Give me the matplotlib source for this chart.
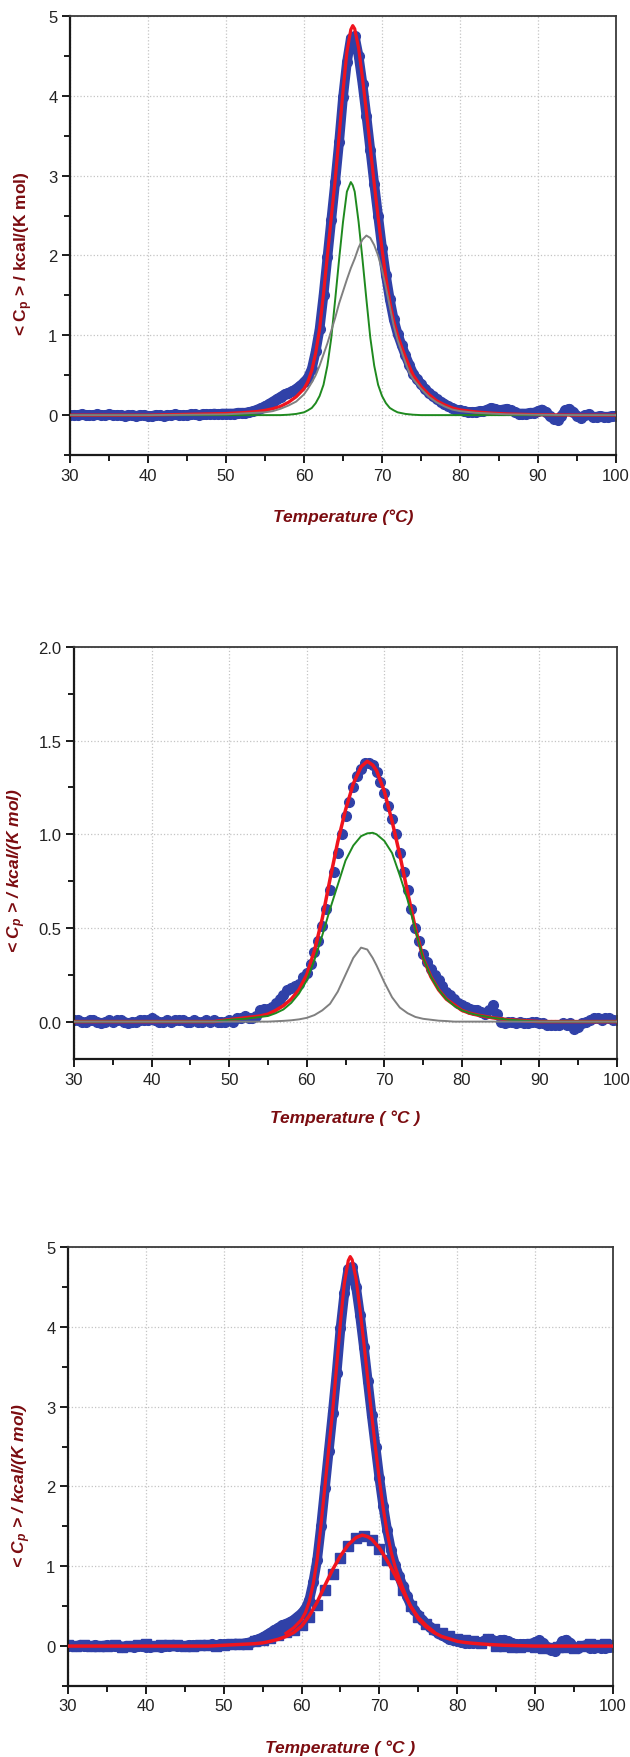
import numpy as np
import matplotlib.pyplot as plt
from matplotlib.ticker import MultipleLocator

plt.rcParams['font.family'] = ['Liberation Sans', 'DejaVu Sans']
plt.rcParams['mathtext.fontset'] = 'custom'
plt.rcParams['mathtext.rm'] = 'Liberation Sans:bold'
plt.rcParams['mathtext.it'] = 'Liberation Sans:italic:bold'
plt.rcParams['mathtext.bf'] = 'Liberation Sans:bold'

BLUE = '#3041a8'
RED = '#f0141e'
GREEN = '#1f8a1f'
GRAY = '#808080'
LABEL = '#7b0c10'

# ---- panel 1 : fit and its two components ----
t1_fit = [30, 40, 50, 52, 54, 55, 56, 57, 58, 59,
          60, 60.5, 61, 61.5, 62, 62.5, 63, 63.5, 64, 64.5,
          65, 65.5, 66, 66.25, 66.5, 67, 67.5, 68, 68.5, 69,
          69.5, 70, 70.5, 71, 71.5, 72, 72.5, 73, 73.5, 74,
          75, 76, 77, 78, 79, 80, 82, 84, 86, 90,
          95, 100]
cp1_fit = [0.0, 0.0, 0.02, 0.03, 0.045, 0.06, 0.08, 0.11, 0.16, 0.23,
           0.33, 0.42, 0.56, 0.78, 1.08, 1.52, 2.00, 2.48, 2.95, 3.50,
           4.06, 4.55, 4.83, 4.88, 4.84, 4.60, 4.22, 3.80, 3.35, 2.90,
           2.48, 2.08, 1.72, 1.42, 1.18, 1.00, 0.86, 0.73, 0.61, 0.50,
           0.36, 0.26, 0.18, 0.13, 0.09, 0.065, 0.04, 0.025, 0.015, 0.005,
           0.0, 0.0]
cp1_peak_a = [0.0, 0.0, 0.0, 0.0, 0.0, 0.0, 0.0, 0.0, 0.005, 0.015,
              0.035, 0.06, 0.09, 0.15, 0.24, 0.38, 0.62, 0.97, 1.45, 1.95,
              2.42, 2.80, 2.92, 2.88, 2.80, 2.42, 1.95, 1.45, 0.97, 0.62,
              0.38, 0.24, 0.15, 0.09, 0.06, 0.035, 0.025, 0.015, 0.01, 0.005,
              0.0, 0.0, 0.0, 0.0, 0.0, 0.0, 0.0, 0.0, 0.0, 0.0,
              0.0, 0.0]
cp1_peak_b = [0.0, 0.0, 0.01, 0.02, 0.03, 0.035, 0.05, 0.08, 0.12, 0.17,
              0.26, 0.33, 0.41, 0.50, 0.62, 0.76, 0.90, 1.06, 1.22, 1.40,
              1.55, 1.70, 1.84, 1.90, 1.96, 2.10, 2.20, 2.25, 2.22, 2.13,
              2.00, 1.82, 1.60, 1.36, 1.12, 0.94, 0.80, 0.66, 0.53, 0.45,
              0.33, 0.23, 0.16, 0.11, 0.07, 0.05, 0.03, 0.02, 0.01, 0.005,
              0.0, 0.0]

# measured scan 1, every 0.5 C from 30 to 100
cp1_data = [0.0, 0.0, 0.0, 0.01, 0.0, 0.0, 0.0, 0.01, 0.0, 0.0,
            0.01, 0.0, 0.0, 0.0, -0.01, 0.0, 0.0, -0.01, 0.0, 0.0,
            -0.01, -0.01, 0.0, 0.0, -0.01, 0.0, 0.0, 0.01, 0.0, 0.0,
            0.0, 0.01, 0.01, 0.0, 0.01, 0.01, 0.01, 0.02, 0.01, 0.02,
            0.02, 0.02, 0.02, 0.03, 0.03, 0.03, 0.04, 0.05, 0.07, 0.09,
            0.11, 0.14, 0.17, 0.20, 0.23, 0.26, 0.28, 0.30, 0.33, 0.37,
            0.41, 0.47, 0.58, 0.80, 1.08, 1.50, 1.98, 2.45, 2.92, 3.42,
            3.98, 4.42, 4.72, 4.75, 4.50, 4.15, 3.75, 3.32, 2.90, 2.50,
            2.10, 1.75, 1.45, 1.20, 1.02, 0.88, 0.75, 0.63, 0.52, 0.45,
            0.39, 0.33, 0.28, 0.24, 0.20, 0.17, 0.14, 0.11, 0.09, 0.07,
            0.06, 0.05, 0.04, 0.04, 0.04, 0.05, 0.05, 0.07, 0.09, 0.08,
            0.06, 0.07, 0.08, 0.06, 0.04, 0.02, 0.02, 0.02, 0.03, 0.03,
            0.05, 0.07, 0.04, -0.01, -0.05, -0.06, -0.01, 0.06, 0.08, 0.04,
            -0.01, -0.03, 0.0, 0.01, -0.02, -0.02, -0.01, -0.02, -0.02, -0.01,
            -0.01]

# ---- panel 2 : fit and its two components ----
t2_fit = [30, 40, 45, 48, 50, 52, 54, 55, 56, 57,
          58, 59, 60, 61, 62, 63, 64, 65, 66, 67,
          67.8, 68.5, 69, 70, 71, 72, 73, 74, 75, 76,
          77, 78, 79, 80, 81, 82, 84, 86, 88, 90,
          95, 100]
cp2_fit = [0.0, 0.0, 0.0, 0.0, 0.01, 0.02, 0.03, 0.04, 0.06, 0.085,
           0.12, 0.17, 0.25, 0.38, 0.55, 0.76, 0.96, 1.13, 1.27, 1.36,
           1.39, 1.37, 1.34, 1.23, 1.07, 0.89, 0.69, 0.50, 0.34, 0.24,
           0.17, 0.12, 0.09, 0.06, 0.045, 0.035, 0.02, 0.01, 0.005, 0.0,
           0.0, 0.0]
cp2_peak_a = [0.0, 0.0, 0.0, 0.0, 0.01, 0.015, 0.025, 0.03, 0.045, 0.065,
              0.10, 0.15, 0.22, 0.33, 0.46, 0.60, 0.73, 0.86, 0.94, 0.99,
              1.005, 1.008, 1.0, 0.965, 0.90, 0.78, 0.65, 0.49, 0.34, 0.24,
              0.17, 0.12, 0.085, 0.06, 0.045, 0.035, 0.02, 0.01, 0.005, 0.0,
              0.0, 0.0]
cp2_peak_b = [0.0, 0.0, 0.0, 0.0, 0.0, 0.0, 0.0, 0.0, 0.002, 0.004,
              0.007, 0.012, 0.02, 0.035, 0.06, 0.095, 0.16, 0.25, 0.34, 0.395,
              0.385, 0.34, 0.30, 0.21, 0.13, 0.075, 0.045, 0.025, 0.015, 0.01,
              0.005, 0.003, 0.0, 0.0, 0.0, 0.0, 0.0, 0.0, 0.0, 0.0,
              0.0, 0.0]

# measured scan 2, every 0.5 C from 30 to 100
cp2_data = [0.01, 0.01, 0.0, 0.0, 0.01, 0.01, 0.0, -0.01, 0.0, 0.01,
            0.0, 0.01, 0.01, 0.0, -0.01, 0.0, 0.0, 0.01, 0.01, 0.01,
            0.02, 0.01, 0.0, 0.0, 0.01, 0.0, 0.01, 0.01, 0.01, 0.0,
            0.0, 0.01, 0.0, 0.0, 0.01, 0.0, 0.01, 0.0, 0.0, 0.0,
            0.01, 0.0, 0.02, 0.02, 0.03, 0.02, 0.02, 0.03, 0.06, 0.07,
            0.07, 0.08, 0.10, 0.12, 0.14, 0.17, 0.18, 0.19, 0.20, 0.24,
            0.26, 0.31, 0.37, 0.43, 0.51, 0.60, 0.70, 0.80, 0.90, 1.00,
            1.10, 1.17, 1.25, 1.31, 1.35, 1.38, 1.38, 1.37, 1.33, 1.28,
            1.22, 1.15, 1.08, 1.00, 0.90, 0.80, 0.70, 0.60, 0.50, 0.43,
            0.36, 0.32, 0.28, 0.25, 0.22, 0.19, 0.16, 0.14, 0.12, 0.10,
            0.09, 0.08, 0.07, 0.06, 0.06, 0.05, 0.04, 0.06, 0.09, 0.04,
            0.0, -0.01, 0.0, 0.0, -0.01, 0.0, -0.01, -0.01, 0.0, 0.0,
            -0.01, -0.01, -0.02, -0.02, -0.02, -0.02, -0.01, -0.02, -0.01, -0.04,
            -0.03, -0.01, 0.0, 0.01, 0.02, 0.02, 0.01, 0.02, 0.02, 0.01,
            0.01]

x_ticks = [30, 40, 50, 60, 70, 80, 90, 100]

t1_fit = np.array(t1_fit)
cp1_fit = np.array(cp1_fit)
scan1 = np.linspace(30, 100, len(cp1_data))
scan2 = np.linspace(30, 100, len(cp2_data))


def style_axes(ax, ylim, ymajor, yminor, yfmt, ylabel, xlabel, ylab_x, ylab_style):
    ax.set_xlim(30, 100)
    ax.set_ylim(*ylim)
    ax.set_xticks(x_ticks)
    ax.xaxis.set_minor_locator(MultipleLocator(5))
    ax.yaxis.set_major_locator(MultipleLocator(ymajor))
    ax.yaxis.set_minor_locator(MultipleLocator(yminor))
    ax.yaxis.set_major_formatter(yfmt)
    ax.tick_params(which='both', direction='out', top=False, right=False,
                   color='#1a1a1a', width=1.4, labelsize=12, labelcolor='#222222')
    ax.tick_params(which='major', length=6, pad=3)
    ax.tick_params(which='minor', length=4)
    ax.grid(True, which='major', linestyle=':', color='#c4c4c4', linewidth=0.9)
    ax.set_axisbelow(True)
    for side in ['left', 'bottom']:
        ax.spines[side].set_linewidth(1.6)
        ax.spines[side].set_color('#1a1a1a')
    for side in ['top', 'right']:
        ax.spines[side].set_linewidth(1.3)
        ax.spines[side].set_color('#3a3a3a')
    ax.set_ylabel(ylabel, fontsize=12.5, fontweight='bold', fontstyle=ylab_style,
                  color=LABEL, va='center')
    ax.yaxis.set_label_coords(ylab_x, 0.46)
    ax.set_xlabel(xlabel, fontsize=12.5, fontweight='bold', fontstyle='italic',
                  color=LABEL, va='center')
    ax.xaxis.set_label_coords(0.5, -0.14)


fig = plt.figure(figsize=(6.3, 17.58), dpi=100)
ax1 = fig.add_axes([0.1111, 0.7406, 0.8667, 0.2497])
ax2 = fig.add_axes([0.1175, 0.3970, 0.8619, 0.2344])
ax3 = fig.add_axes([0.1079, 0.0404, 0.8651, 0.2497])

## panel 1
ax1.plot(scan1, cp1_data, '-', color=BLUE, lw=7, solid_capstyle='round', zorder=2)
ax1.plot(scan1, cp1_data, 'o', color=BLUE, ms=7, mec=BLUE, zorder=2)
ax1.plot(t1_fit, cp1_fit, color=RED, lw=2.3, zorder=3)
ax1.plot(t1_fit, cp1_peak_a, color=GREEN, lw=1.4, zorder=4)
ax1.plot(t1_fit, cp1_peak_b, color=GRAY, lw=1.4, zorder=5)
style_axes(ax1, (-0.5, 5), 1, 0.5, '{x:.0f}',
           r'< C$_{\mathrm{p}}$ > / kcal/(K mol)', 'Temperature (°C)', -0.085, 'normal')

## panel 2
ax2.plot(scan2, cp2_data, 'o', color=BLUE, ms=7, mec=BLUE, zorder=2)
ax2.plot(t2_fit, cp2_fit, color=RED, lw=2.5, zorder=3)
ax2.plot(t2_fit, cp2_peak_a, color=GREEN, lw=1.4, zorder=4)
ax2.plot(t2_fit, cp2_peak_b, color=GRAY, lw=1.4, zorder=5)
style_axes(ax2, (-0.2, 2.0), 0.5, 0.25, '{x:.1f}',
           r'< C$_{\mathit{p}}$ > / kcal/(K mol)', 'Temperature ( °C )', -0.105, 'italic')

## panel 3 : both scans together
in_peak = (t1_fit >= 58) & (t1_fit <= 77.5)
ax3.plot(scan1, cp1_data, '-', color=BLUE, lw=7, solid_capstyle='round', zorder=2)
ax3.plot(scan1, cp1_data, 'o', color=BLUE, ms=7, mec=BLUE, zorder=2)
ax3.plot(scan2[::2], cp2_data[::2], 's', color=BLUE, ms=7, mec=BLUE, zorder=2)
ax3.plot(t1_fit[in_peak], cp1_fit[in_peak], color=RED, lw=2.3, zorder=3)
ax3.plot(t2_fit, cp2_fit, color=RED, lw=2.5, zorder=3)
style_axes(ax3, (-0.5, 5), 1, 0.5, '{x:.0f}',
           r'< C$_{\mathit{p}}$ > / kcal/(K mol)', 'Temperature ( °C )', -0.085, 'italic')

fig.savefig('out.png', dpi=100)
